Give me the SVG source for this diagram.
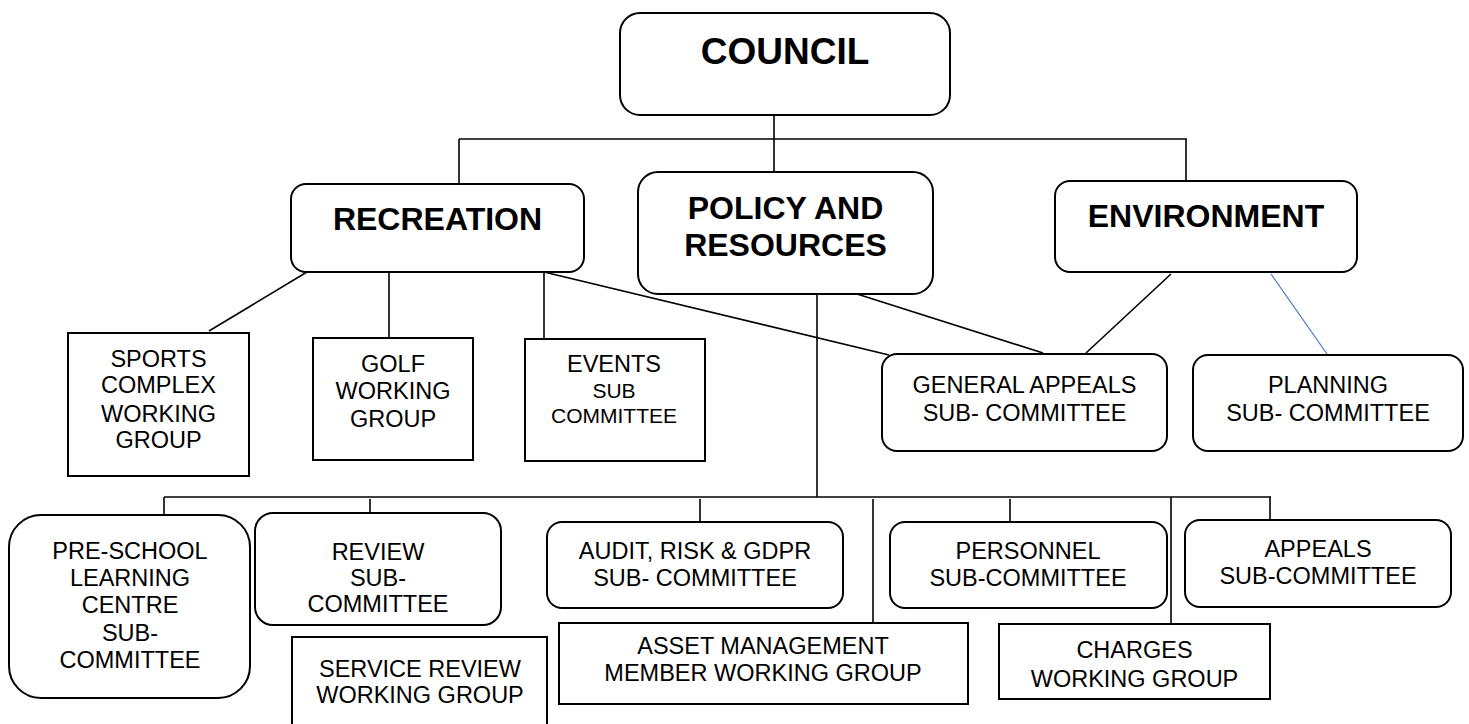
<svg xmlns="http://www.w3.org/2000/svg" width="1469" height="724" viewBox="0 0 1469 724">
<style>
.box{fill:#fff;stroke:#000;stroke-width:2}
.ln{stroke:#000;stroke-width:1.6;fill:none}
.blue{stroke:#4472C4;stroke-width:1.2;fill:none}
.t{font-family:"Liberation Sans",Arial,sans-serif;font-size:23.5px;fill:#000;text-anchor:middle}
.tb{font-family:"Liberation Sans",Arial,sans-serif;font-weight:bold;font-size:32px;fill:#000;text-anchor:middle}
.ts{font-size:21px}
</style>
<rect width="1469" height="724" fill="#fff"/>
<g id="connectors">
<line class="ln" x1="774" y1="115" x2="774" y2="139"/>
<line class="ln" x1="459" y1="139" x2="1187" y2="139"/>
<line class="ln" x1="459" y1="139" x2="459" y2="184"/>
<line class="ln" x1="774" y1="139" x2="774" y2="172"/>
<line class="ln" x1="1186" y1="139" x2="1186" y2="181"/>
<line class="ln" x1="307" y1="272" x2="209" y2="331"/>
<line class="ln" x1="389" y1="272" x2="389" y2="338"/>
<line class="ln" x1="544" y1="272" x2="544" y2="339"/>
<line class="ln" x1="544" y1="272" x2="889" y2="355"/>
<line class="ln" x1="857" y1="294" x2="1043" y2="353"/>
<line class="ln" x1="1171" y1="274" x2="1086" y2="353"/>
<line class="blue" x1="1271" y1="274" x2="1327" y2="354"/>
<line class="ln" x1="817" y1="294" x2="817" y2="497"/>
<line class="ln" x1="164" y1="497" x2="1271" y2="497"/>
<line class="ln" x1="164" y1="497" x2="164" y2="515"/>
<line class="ln" x1="370" y1="499" x2="370" y2="520"/>
<line class="ln" x1="700" y1="499" x2="700" y2="522"/>
<line class="ln" x1="873" y1="499" x2="873" y2="623"/>
<line class="ln" x1="1010" y1="499" x2="1010" y2="522"/>
<line class="ln" x1="1171" y1="497" x2="1171" y2="624"/>
<line class="ln" x1="1270" y1="497" x2="1270" y2="520"/>
</g>
<g id="council">
<rect class="box" x="620" y="13" width="330" height="102" rx="20"/>
<text class="tb" x="785" y="64" style="font-size:37px">COUNCIL</text>
</g>
<g id="recreation">
<rect class="box" x="291" y="184" width="293" height="88" rx="15"/>
<text class="tb" x="437.5" y="230">RECREATION</text>
</g>
<g id="policy">
<rect class="box" x="638" y="172" width="295" height="122" rx="20"/>
<text class="tb" x="785.5" y="219">POLICY AND</text>
<text class="tb" x="785.5" y="256">RESOURCES</text>
</g>
<g id="environment">
<rect class="box" x="1055" y="181" width="302" height="91" rx="15"/>
<text class="tb" x="1206" y="227">ENVIRONMENT</text>
</g>
<g id="sports">
<rect class="box" x="68" y="333" width="181" height="143"/>
<text class="t" x="158.5" y="367">SPORTS</text>
<text class="t" x="158.5" y="393">COMPLEX</text>
<text class="t" x="158.5" y="422">WORKING</text>
<text class="t" x="158.5" y="448">GROUP</text>
</g>
<g id="golf">
<rect class="box" x="313" y="338" width="160" height="122"/>
<text class="t" x="393" y="372">GOLF</text>
<text class="t" x="393" y="399">WORKING</text>
<text class="t" x="393" y="427">GROUP</text>
</g>
<g id="events">
<rect class="box" x="525" y="339" width="180" height="122"/>
<text class="t" x="614" y="372">EVENTS</text>
<text class="t ts" x="614" y="398">SUB</text>
<text class="t ts" x="614" y="423">COMMITTEE</text>
</g>
<g id="general-appeals">
<rect class="box" x="882" y="354" width="285" height="97" rx="15"/>
<text class="t" x="1024.5" y="393">GENERAL APPEALS</text>
<text class="t" x="1024.5" y="421">SUB- COMMITTEE</text>
</g>
<g id="planning">
<rect class="box" x="1193" y="355" width="270" height="96" rx="15"/>
<text class="t" x="1328" y="393">PLANNING</text>
<text class="t" x="1328" y="421">SUB- COMMITTEE</text>
</g>
<g id="preschool">
<rect class="box" x="9" y="515" width="241" height="183" rx="32"/>
<text class="t" x="130" y="559">PRE-SCHOOL</text>
<text class="t" x="130" y="586">LEARNING</text>
<text class="t" x="130" y="613">CENTRE</text>
<text class="t" x="130" y="641">SUB-</text>
<text class="t" x="130" y="668">COMMITTEE</text>
</g>
<g id="review">
<rect class="box" x="255" y="513" width="246" height="112" rx="18"/>
<text class="t" x="378" y="560">REVIEW</text>
<text class="t" x="378" y="586">SUB-</text>
<text class="t" x="378" y="612">COMMITTEE</text>
</g>
<g id="service-review">
<rect class="box" x="292" y="637" width="255" height="100"/>
<text class="t" x="420" y="677">SERVICE REVIEW</text>
<text class="t" x="420" y="703">WORKING GROUP</text>
</g>
<g id="audit">
<rect class="box" x="547" y="522" width="296" height="86" rx="15"/>
<text class="t" x="695" y="559">AUDIT, RISK &amp; GDPR</text>
<text class="t" x="695" y="586">SUB- COMMITTEE</text>
</g>
<g id="asset">
<rect class="box" x="559" y="623" width="409" height="81"/>
<text class="t" x="763" y="654">ASSET MANAGEMENT</text>
<text class="t" x="763" y="681">MEMBER WORKING GROUP</text>
</g>
<g id="personnel">
<rect class="box" x="890" y="522" width="277" height="86" rx="15"/>
<text class="t" x="1028" y="559">PERSONNEL</text>
<text class="t" x="1028" y="586">SUB-COMMITTEE</text>
</g>
<g id="charges">
<rect class="box" x="999" y="624" width="271" height="75"/>
<text class="t" x="1134.5" y="658">CHARGES</text>
<text class="t" x="1134.5" y="687">WORKING GROUP</text>
</g>
<g id="appeals">
<rect class="box" x="1185" y="520" width="266" height="87" rx="15"/>
<text class="t" x="1318" y="557">APPEALS</text>
<text class="t" x="1318" y="584">SUB-COMMITTEE</text>
</g>
</svg>
